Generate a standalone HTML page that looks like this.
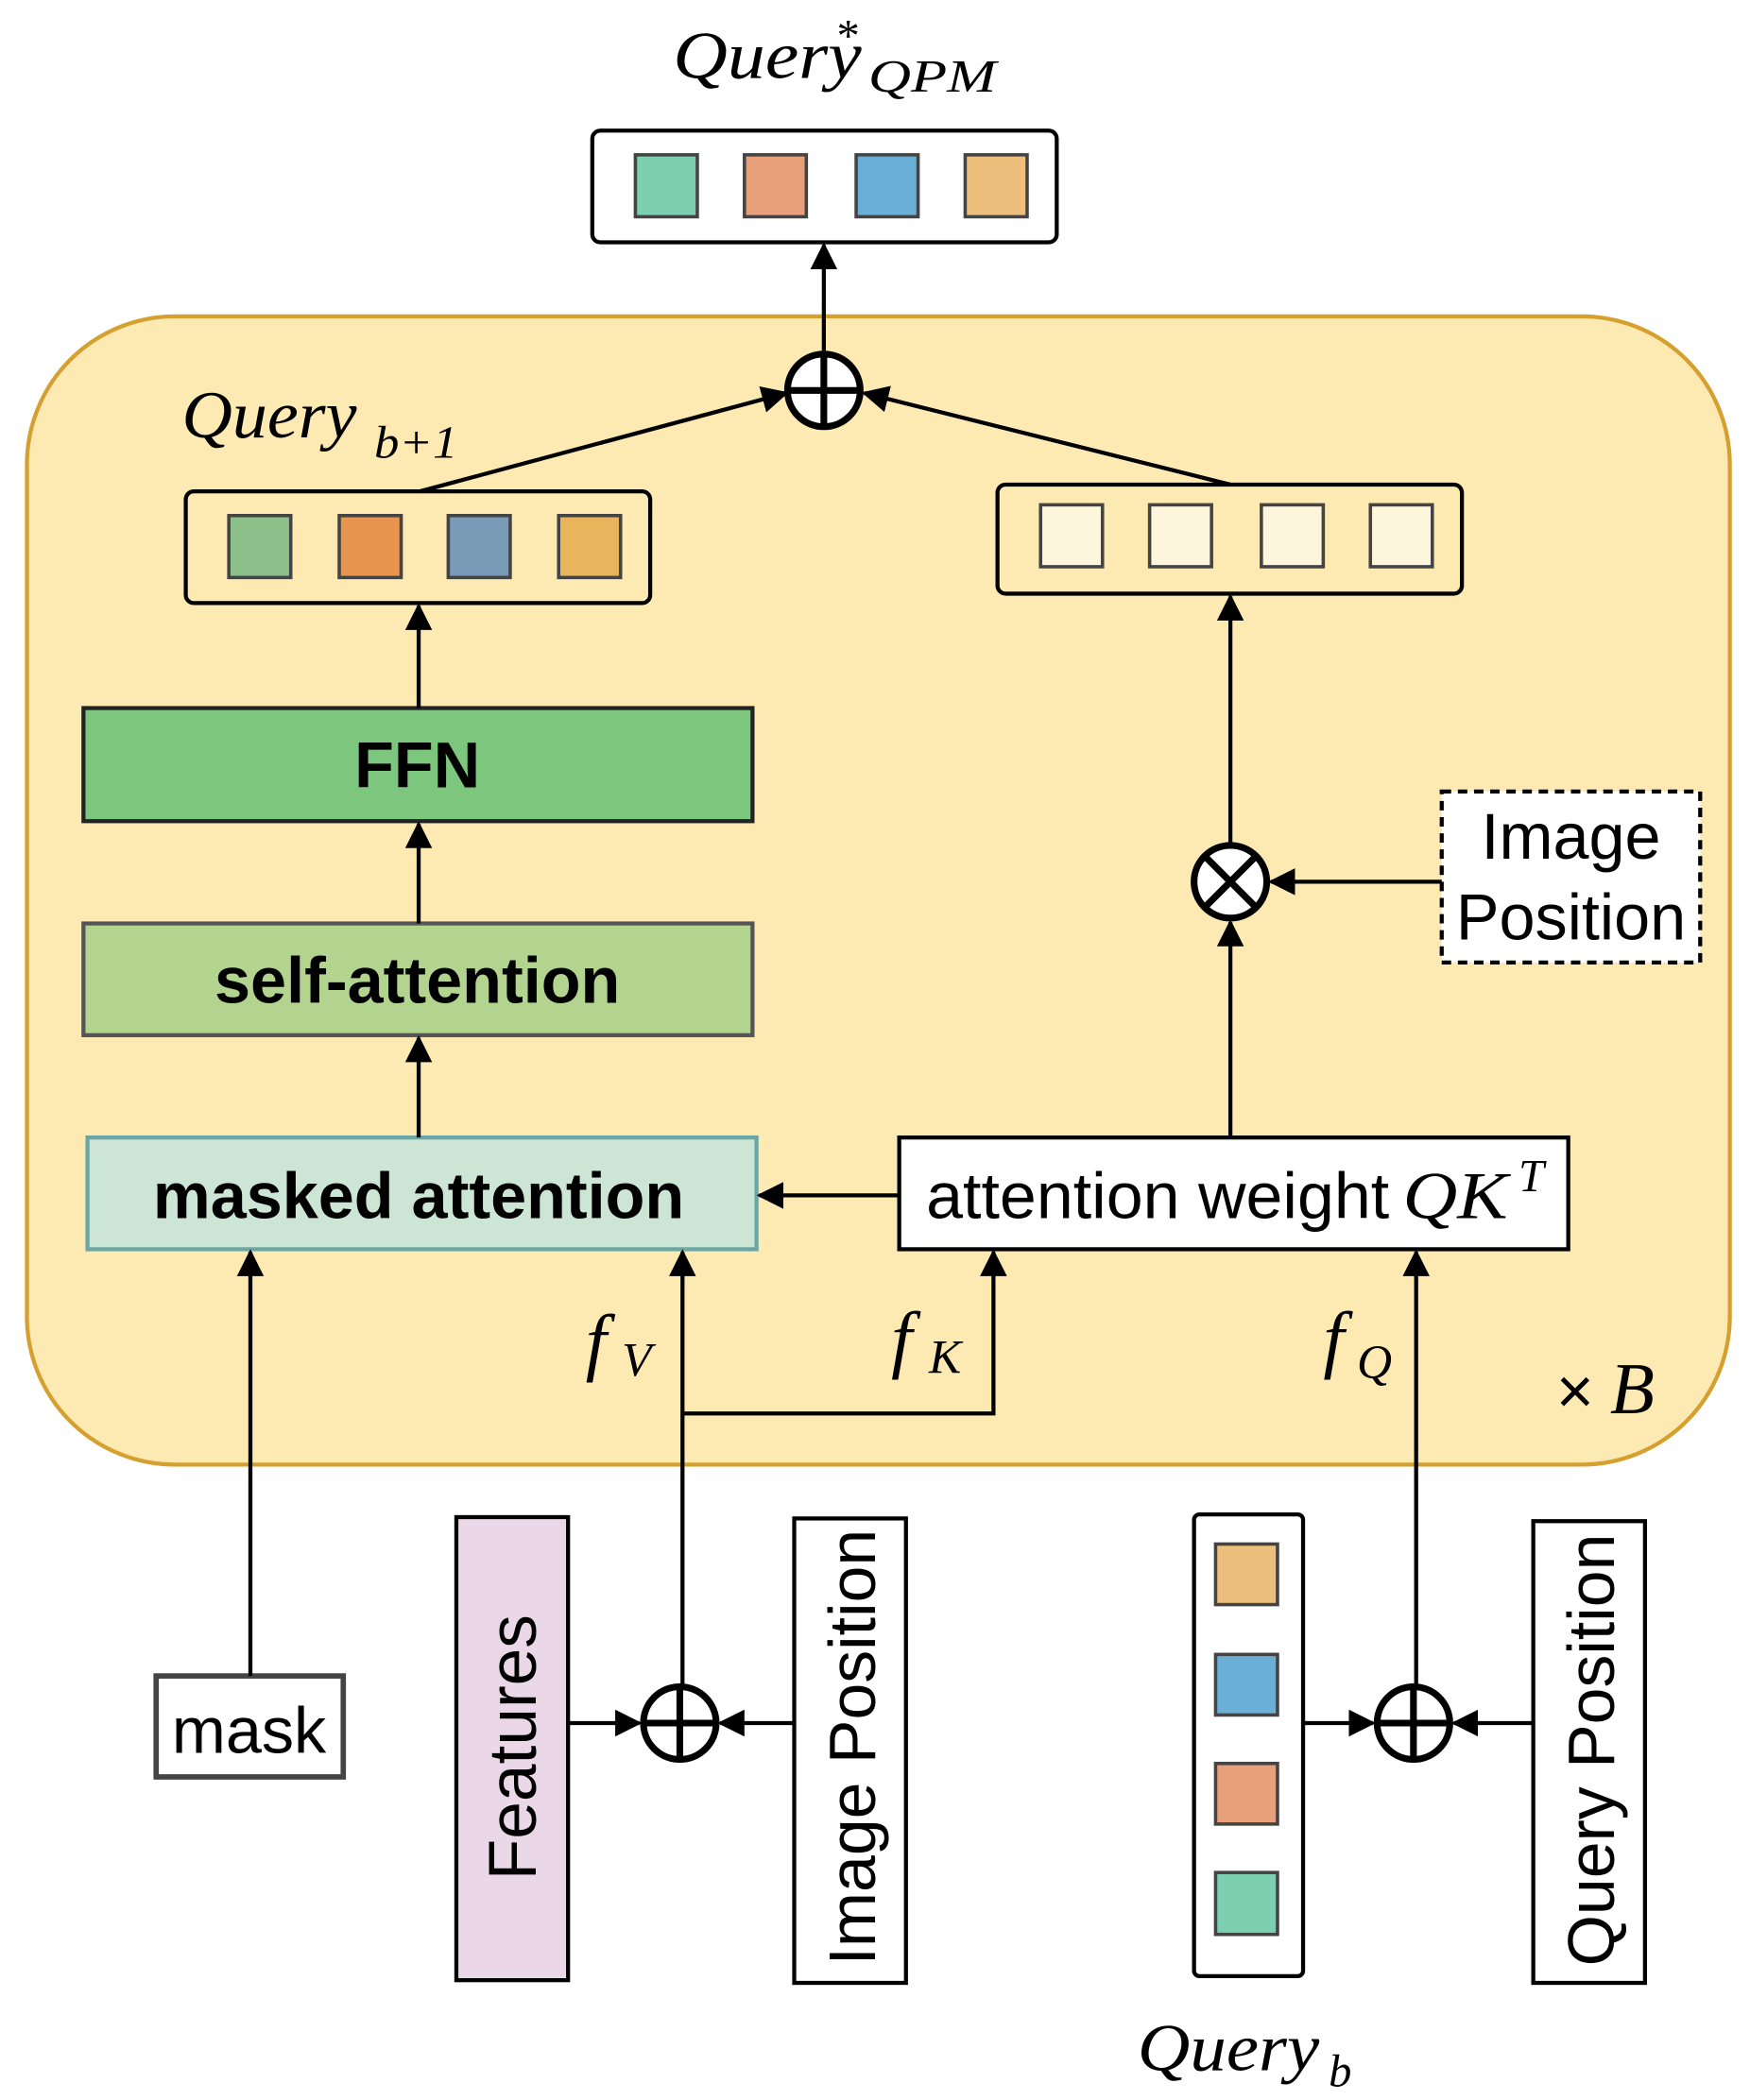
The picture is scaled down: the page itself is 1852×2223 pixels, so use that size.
<!DOCTYPE html>
<html><head><meta charset="utf-8"><style>
html,body{margin:0;padding:0;background:#fff;}
svg{display:block;}
text{font-family:"Liberation Sans",sans-serif;}
.m{font-family:"Liberation Serif",serif;font-style:italic;}
</style></head><body>
<svg width="1852" height="2223" viewBox="0 0 1300 1560" preserveAspectRatio="none" xmlns="http://www.w3.org/2000/svg">
<defs>
<marker id="b" viewBox="0 0 10 10" refX="9" refY="5" markerWidth="20" markerHeight="20" markerUnits="userSpaceOnUse" orient="auto">
<path d="M0,0 L10,5 L0,10 z" fill="#000"/></marker>
</defs>
<text x="500" y="58" class="m" font-size="50" textLength="140" lengthAdjust="spacingAndGlyphs">Query</text>
<text x="620" y="38" class="m" font-size="34">*</text>
<text x="645" y="68" class="m" font-size="34" textLength="95" lengthAdjust="spacingAndGlyphs">QPM</text>
<rect x="440" y="97" width="345" height="83" rx="6" fill="#fff" stroke="#000" stroke-width="3"/>
<g stroke="#444" stroke-width="2.5">
<rect x="472" y="115" width="46" height="46" fill="#7ccfb0"/>
<rect x="553" y="115" width="46" height="46" fill="#e8a07a"/>
<rect x="636" y="115" width="46" height="46" fill="#6aafd6"/>
<rect x="717" y="115" width="46" height="46" fill="#ecc07c"/>
</g>
<rect x="20" y="235" width="1265" height="853" rx="110" fill="#fde9b2" stroke="#d6a030" stroke-width="3"/>
<text x="135" y="325" class="m" font-size="50" textLength="130" lengthAdjust="spacingAndGlyphs">Query</text>
<text x="278" y="340" class="m" font-size="34" textLength="62" lengthAdjust="spacingAndGlyphs">b+1</text>
<rect x="138" y="365" width="345" height="83" rx="6" fill="#fde9b2" stroke="#000" stroke-width="3"/>
<g stroke="#444" stroke-width="2.5">
<rect x="170" y="383" width="46" height="46" fill="#8dbf8b"/>
<rect x="252" y="383" width="46" height="46" fill="#e8954f"/>
<rect x="333" y="383" width="46" height="46" fill="#7a9bb8"/>
<rect x="415" y="383" width="46" height="46" fill="#e8b45c"/>
</g>
<rect x="741" y="360" width="345" height="81" rx="6" fill="#fde9b2" stroke="#000" stroke-width="3"/>
<g stroke="#444" stroke-width="2.5" fill="#fef6dc">
<rect x="773" y="375" width="46" height="46"/>
<rect x="854" y="375" width="46" height="46"/>
<rect x="937" y="375" width="46" height="46"/>
<rect x="1018" y="375" width="46" height="46"/>
</g>
<rect x="62" y="526" width="497" height="84" fill="#7dc67d" stroke="#222" stroke-width="3"/>
<text x="310" y="585" font-size="48" font-weight="bold" text-anchor="middle">FFN</text>
<rect x="62" y="686" width="497" height="83" fill="#b3d48f" stroke="#555" stroke-width="3"/>
<text x="310" y="745" font-size="48" font-weight="bold" text-anchor="middle">self-attention</text>
<rect x="65" y="845" width="497" height="83" fill="#cce5d5" stroke="#6aa6a6" stroke-width="3"/>
<text x="311" y="905" font-size="48" font-weight="bold" text-anchor="middle">masked attention</text>
<rect x="668" y="845" width="497" height="83" fill="#fff" stroke="#000" stroke-width="3"/>
<text x="688" y="905" font-size="48" textLength="344" lengthAdjust="spacingAndGlyphs">attention weight</text>
<text x="1042" y="905" class="m" font-size="50" textLength="78" lengthAdjust="spacingAndGlyphs">QK</text>
<text x="1128" y="885" class="m" font-size="34">T</text>
<rect x="1071" y="588" width="192" height="127" fill="#fff" stroke="#000" stroke-width="3" stroke-dasharray="7,5"/>
<text x="1167" y="638" font-size="48" text-anchor="middle">Image</text>
<text x="1167" y="698" font-size="48" text-anchor="middle">Position</text>
<rect x="116" y="1245" width="139" height="75" fill="#fff" stroke="#444" stroke-width="4"/>
<text x="185" y="1302" font-size="48" text-anchor="middle">mask</text>
<rect x="339" y="1127" width="83" height="344" fill="#ead8e8" stroke="#000" stroke-width="3"/>
<text transform="translate(398,1298) rotate(-90)" font-size="50" text-anchor="middle">Features</text>
<rect x="590" y="1128" width="83" height="345" fill="#fff" stroke="#000" stroke-width="3"/>
<text transform="translate(650,1298) rotate(-90)" font-size="49" text-anchor="middle">Image Position</text>
<rect x="887" y="1125" width="81" height="343" rx="4" fill="#fff" stroke="#000" stroke-width="3"/>
<g stroke="#444" stroke-width="2.5">
<rect x="903" y="1147" width="46" height="45" fill="#ecc07c"/>
<rect x="903" y="1229" width="46" height="45" fill="#6aafd6"/>
<rect x="903" y="1310" width="46" height="45" fill="#e8a07a"/>
<rect x="903" y="1391" width="46" height="46" fill="#7ccfb0"/>
</g>
<rect x="1139" y="1130" width="83" height="343" fill="#fff" stroke="#000" stroke-width="3"/>
<text transform="translate(1199,1300) rotate(-90)" font-size="49" text-anchor="middle">Query Position</text>
<text x="845" y="1538" class="m" font-size="50" textLength="135" lengthAdjust="spacingAndGlyphs">Query</text>
<text x="987" y="1550" class="m" font-size="34">b</text>
<text x="435" y="1015" class="m" font-size="56">f</text><text x="462" y="1022" class="m" font-size="36">V</text>
<text x="662" y="1013" class="m" font-size="56">f</text><text x="690" y="1020" class="m" font-size="36">K</text>
<text x="983" y="1013" class="m" font-size="56">f</text><text x="1008" y="1024" class="m" font-size="36">Q</text>
<text x="1156" y="1050" font-size="48">×</text><text x="1196" y="1050" class="m" font-size="54">B</text>
<g stroke="#000" stroke-width="3" fill="none">
<line x1="612" y1="262" x2="612" y2="182" marker-end="url(#b)"/>
<line x1="312" y1="365" x2="584" y2="292" marker-end="url(#b)"/>
<line x1="914" y1="360" x2="642" y2="292" marker-end="url(#b)"/>
<line x1="311" y1="526" x2="311" y2="450" marker-end="url(#b)"/>
<line x1="311" y1="686" x2="311" y2="612" marker-end="url(#b)"/>
<line x1="311" y1="845" x2="311" y2="771" marker-end="url(#b)"/>
<line x1="668" y1="888" x2="564" y2="888" marker-end="url(#b)"/>
<line x1="914" y1="845" x2="914" y2="685" marker-end="url(#b)"/>
<line x1="914" y1="627" x2="914" y2="443" marker-end="url(#b)"/>
<line x1="1071" y1="655" x2="944" y2="655" marker-end="url(#b)"/>
<line x1="186" y1="1245" x2="186" y2="930" marker-end="url(#b)"/>
<line x1="422" y1="1280" x2="475" y2="1280" marker-end="url(#b)"/>
<line x1="590" y1="1280" x2="535" y2="1280" marker-end="url(#b)"/>
<line x1="507" y1="1252" x2="507" y2="930" marker-end="url(#b)"/>
<polyline points="507,1050 738,1050 738,930" marker-end="url(#b)"/>
<line x1="968" y1="1280" x2="1020" y2="1280" marker-end="url(#b)"/>
<line x1="1139" y1="1280" x2="1080" y2="1280" marker-end="url(#b)"/>
<line x1="1052" y1="1252" x2="1052" y2="930" marker-end="url(#b)"/>
</g>
<g stroke="#000" stroke-width="5" fill="#fff">
<circle cx="612" cy="290" r="27"/>
<circle cx="914" cy="655" r="27"/>
<circle cx="505" cy="1280" r="27"/>
<circle cx="1050" cy="1280" r="27"/>
</g>
<g stroke="#000" stroke-width="5">
<line x1="585" y1="290" x2="639" y2="290"/><line x1="612" y1="263" x2="612" y2="317"/>
<line x1="478" y1="1280" x2="532" y2="1280"/><line x1="505" y1="1253" x2="505" y2="1307"/>
<line x1="1023" y1="1280" x2="1077" y2="1280"/><line x1="1050" y1="1253" x2="1050" y2="1307"/>
<line x1="895" y1="636" x2="933" y2="674"/><line x1="933" y1="636" x2="895" y2="674"/>
</g>
</svg>
</body></html>
